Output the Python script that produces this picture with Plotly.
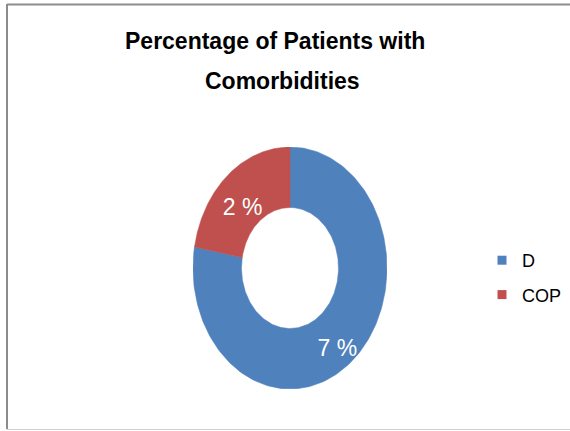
import numpy as np
import plotly.graph_objects as go

# Data
categories = ["D", "COP"]
values = [7, 2]
colors = ["#4F81BD", "#C0504D"]
label_texts = [f"{v} %" for v in values]

W, H = 570, 431
HOLE = 0.5          # inner radius as a fraction of the outer radius
LABEL_R = 0.76      # radial position of the data labels

total = float(sum(values))
cum = np.concatenate([[0.0], np.cumsum(values)]) / total * 360.0

fig = go.Figure()

# Donut slices, clockwise from 12 o'clock, drawn on an unconstrained x/y frame
for i, (cat, col) in enumerate(zip(categories, colors)):
    a0, a1 = np.radians(cum[i]), np.radians(cum[i + 1])
    t = np.linspace(a0, a1, 200)
    xs = np.concatenate([np.sin(t), HOLE * np.sin(t[::-1])])
    ys = np.concatenate([np.cos(t), HOLE * np.cos(t[::-1])])
    fig.add_trace(go.Scatter(
        x=np.append(xs, xs[0]), y=np.append(ys, ys[0]),
        mode="lines", fill="toself", fillcolor=col,
        line=dict(color=col, width=0.5),
        legendgroup=cat, showlegend=False, hoverinfo="skip",
    ))

# Data labels at each slice's mid-angle
mid = np.radians((cum[:-1] + cum[1:]) / 2.0)
fig.add_trace(go.Scatter(
    x=LABEL_R * np.sin(mid), y=LABEL_R * np.cos(mid),
    mode="text", text=label_texts, textposition="bottom center",
    textfont=dict(family="Liberation Sans, Arial, sans-serif", size=23, color="white"),
    showlegend=False, hoverinfo="skip",
))

# Legend entries
for cat, col in zip(categories, colors):
    fig.add_trace(go.Scatter(
        x=[None], y=[None], mode="markers", name=cat, legendgroup=cat,
        marker=dict(symbol="square", size=9, color=col),
    ))

title_font = dict(family="Liberation Sans, Arial, sans-serif", size=23, color="black")

fig.update_layout(
    width=W, height=H, autosize=False,
    margin=dict(l=0, r=0, t=0, b=0),
    paper_bgcolor="white", plot_bgcolor="white",
    xaxis=dict(domain=[193 / W, 387 / W], range=[-1, 1], visible=False, fixedrange=True),
    yaxis=dict(domain=[1 - 389 / H, 1 - 147 / H], range=[-1, 1], visible=False, fixedrange=True),
    showlegend=True,
    legend=dict(
        x=482 / W, y=1 - 242 / H, xanchor="left", yanchor="top",
        font=dict(family="Liberation Sans, Arial, sans-serif", size=18, color="black"),
        traceorder="grouped", tracegroupgap=8,
        bgcolor="rgba(0,0,0,0)",
    ),
    annotations=[
        dict(text="<b>Percentage of Patients with</b>", x=275 / W, y=1 - 41 / H,
             xref="paper", yref="paper", xanchor="center", yanchor="middle",
             showarrow=False, font=title_font),
        dict(text="<b>Comorbidities</b>", x=282 / W, y=1 - 81 / H,
             xref="paper", yref="paper", xanchor="center", yanchor="middle",
             showarrow=False, font=title_font),
    ],
    shapes=[
        dict(type="line", xref="paper", yref="paper",
             x0=7 / W, x1=1.01, y0=1 - 4.5 / H, y1=1 - 4.5 / H,
             line=dict(color="#8C8C8C", width=2)),
        dict(type="line", xref="paper", yref="paper",
             x0=7 / W, x1=7 / W, y0=1 - 4 / H, y1=1 - 429 / H,
             line=dict(color="#8C8C8C", width=2)),
        dict(type="line", xref="paper", yref="paper",
             x0=7 / W, x1=1.01, y0=1 - 429.5 / H, y1=1 - 429.5 / H,
             line=dict(color="#D0D0D0", width=1)),
    ],
)

fig.write_html("out.html")
